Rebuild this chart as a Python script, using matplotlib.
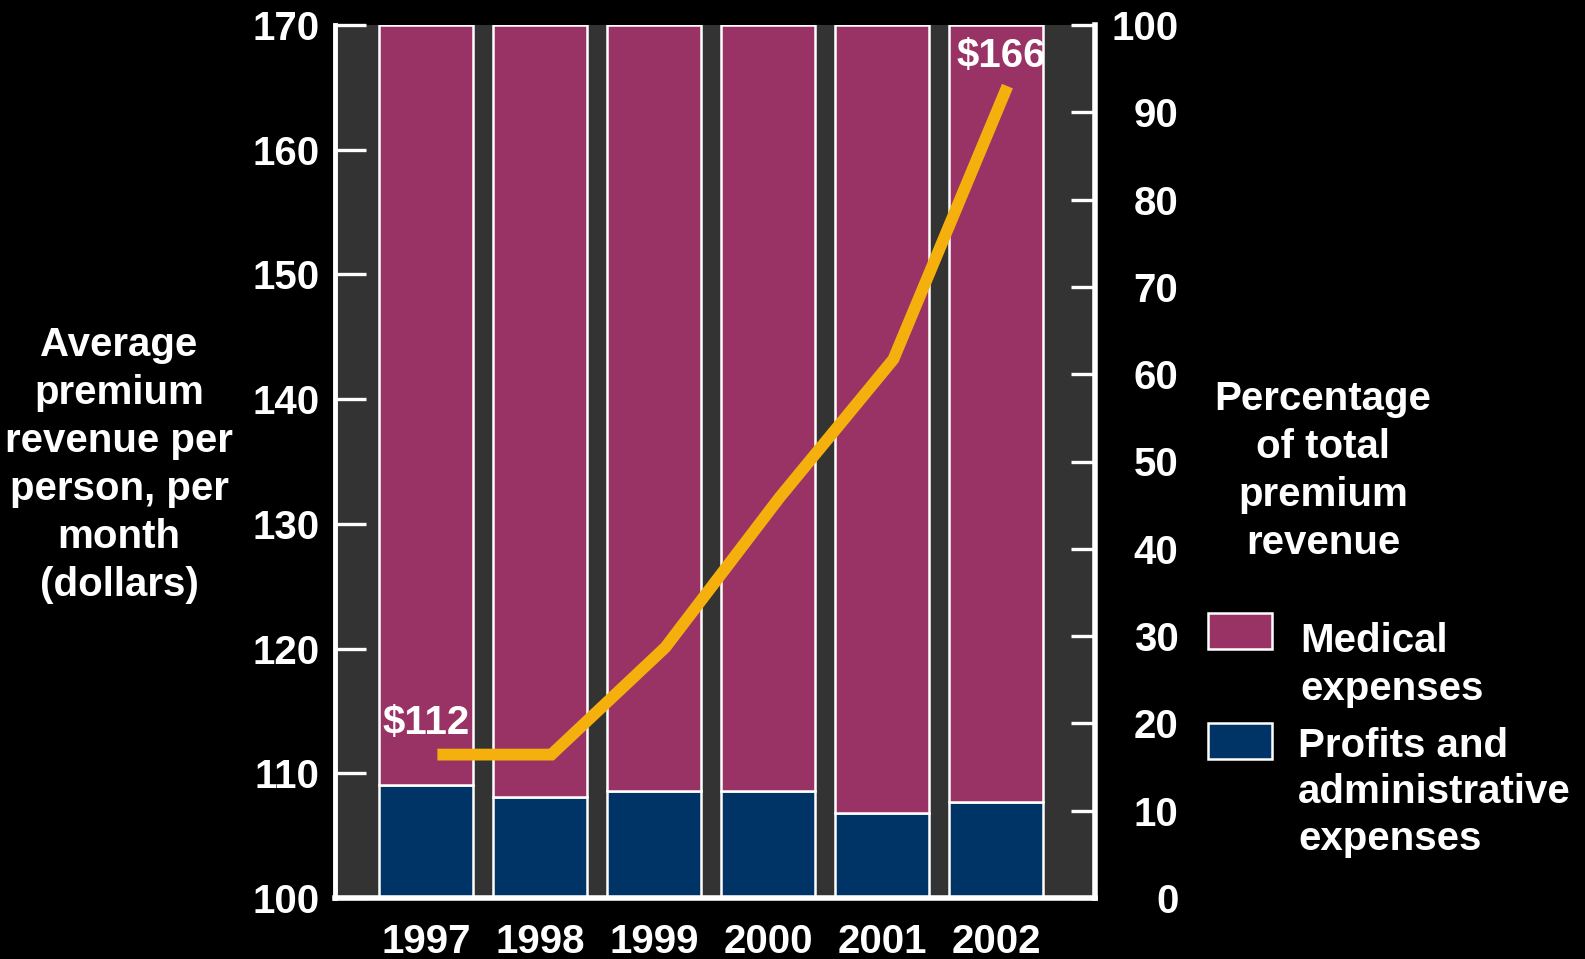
import matplotlib
matplotlib.use("Agg")
import matplotlib.pyplot as plt
from matplotlib.patches import Rectangle
import numpy as np

plt.rcParams['font.family'] = ['Liberation Sans', 'DejaVu Sans']
plt.rcParams['font.weight'] = 'bold'

years = ["1997", "1998", "1999", "2000", "2001", "2002"]
profits_admin_pct = [12.9, 11.6, 12.3, 12.2, 9.7, 11.0]
medical_pct = [100 - v for v in profits_admin_pct]
premium_dollars = [111.5, 111.5, 120.1, 132.1, 143.2, 165.1]
first_label = "$112"
last_label = "$166"
left_ticks = [100, 110, 120, 130, 140, 150, 160, 170]
right_ticks = [0, 10, 20, 30, 40, 50, 60, 70, 80, 90, 100]

PURPLE = '#993366'
NAVY = '#003366'
ORANGE = '#F5B00E'
GRAY = '#333333'
FS = 29

W, H = 1585, 959
fig = plt.figure(figsize=(W / 100, H / 100), dpi=100, facecolor='black')

def fx(px):
    return px / W

def fy(py):
    return 1 - py / H

ax2 = fig.add_axes([fx(335), fy(898), fx(1095) - fx(335), fy(25) - fy(898)])
ax = ax2.twinx()
# left (dollar) axis on top so the line draws over bars
ax.yaxis.tick_left()
ax.yaxis.set_label_position('left')
ax2.yaxis.tick_right()
ax.set_zorder(ax2.get_zorder() + 1)
ax.patch.set_visible(False)
ax2.set_facecolor(GRAY)

x = np.arange(len(years))
bw = 0.83
ax2.bar(x, profits_admin_pct, width=bw, color=NAVY, edgecolor='white', linewidth=1.8)
ax2.bar(x, medical_pct, bottom=profits_admin_pct, width=bw, color=PURPLE,
        edgecolor='white', linewidth=1.8)
ax2.set_ylim(0, 100)
ax2.set_xlim(-0.798, 5.868)

ax.plot(x + 0.1, premium_dollars, color=ORANGE, linewidth=8.5, solid_joinstyle='miter',
        solid_capstyle='butt')
ax.set_ylim(100, 170)
ax.set_xlim(-0.798, 5.868)

ax.annotate(first_label, xy=(0, premium_dollars[0]), xytext=(0, 15),
            textcoords='offset points', ha='center', va='baseline',
            color='white', fontsize=FS, fontweight='bold')
ax.annotate(last_label, xy=(5, premium_dollars[-1]), xytext=(4, 14),
            textcoords='offset points', ha='center', va='baseline',
            color='white', fontsize=FS, fontweight='bold')

# ticks
ax.set_yticks(left_ticks)
ax.set_yticklabels([str(t) for t in left_ticks])
ax.tick_params(axis='y', direction='in', length=22, width=2.4, color='white',
               labelcolor='white', labelsize=FS, pad=11)
ax2.set_yticks(right_ticks)
ax2.set_yticklabels([str(t) for t in right_ticks])
ax2.tick_params(axis='y', direction='in', length=17, width=2.4, color='white',
                labelcolor='white', labelsize=FS, pad=60)
for lab in ax2.get_yticklabels():
    lab.set_horizontalalignment('right')

ax2.set_xticks(x)
ax2.set_xticklabels(years)
ax2.tick_params(axis='x', length=0, labelcolor='white', labelsize=FS, pad=18)
ax.tick_params(axis='x', bottom=False, labelbottom=False)

for a in (ax, ax2):
    a.spines['top'].set_visible(False)
ax.spines['right'].set_visible(False)
ax.spines['left'].set_color('white')
ax.spines['left'].set_linewidth(3.5)
ax.spines['bottom'].set_color('white')
ax.spines['bottom'].set_linewidth(4)
ax2.spines['left'].set_visible(False)
ax2.spines['bottom'].set_visible(False)
ax2.spines['right'].set_color('white')
ax2.spines['right'].set_linewidth(4)

# axis titles
fig.text(fx(119), fy(326), "Average\npremium\nrevenue per\nperson, per\nmonth\n(dollars)",
         ha='center', va='top', color='white', fontsize=FS, fontweight='bold',
         linespacing=1.33, multialignment='center')
fig.text(fx(1323), fy(380), "Percentage\nof total\npremium\nrevenue",
         ha='center', va='top', color='white', fontsize=FS, fontweight='bold',
         linespacing=1.33, multialignment='center')

# legend
fig.patches.append(Rectangle((fx(1208), fy(649)), fx(64), fy(613) - fy(649),
                             transform=fig.transFigure, facecolor=PURPLE,
                             edgecolor='white', linewidth=1.8))
fig.patches.append(Rectangle((fx(1208), fy(759)), fx(64), fy(723) - fy(759),
                             transform=fig.transFigure, facecolor=NAVY,
                             edgecolor='white', linewidth=1.8))
fig.text(fx(1300), fy(622), "Medical\nexpenses", ha='left', va='top', color='white',
         fontsize=FS, fontweight='bold', linespacing=1.33)
fig.text(fx(1298), fy(727), "Profits and\nadministrative\nexpenses", ha='left', va='top',
         color='white', fontsize=FS, fontweight='bold', linespacing=1.28)

fig.savefig("out.png", dpi=100, facecolor='black')
